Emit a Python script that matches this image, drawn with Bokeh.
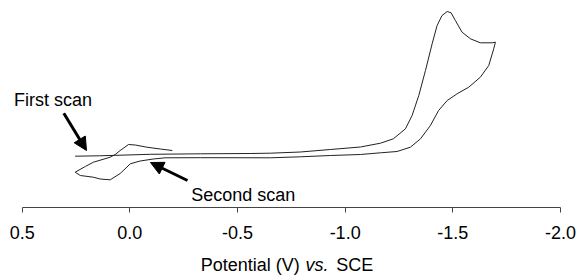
from bokeh.plotting import figure
from bokeh.models import Range1d, FixedTicker, Label, Arrow, NormalHead
from bokeh.embed import file_html
from bokeh.resources import INLINE

# ---- data (potential in V vs SCE, current in arbitrary units) ----
tick_values = [0.5, 0.0, -0.5, -1.0, -1.5, -2.0]
tick_labels = ["0.5", "0.0", "-0.5", "-1.0", "-1.5", "-2.0"]

# first scan: cathodic sweep from +0.25 V to -1.70 V and back to +0.25 V
scan1_potential = [0.254, 0.14, -0.095, -0.327, -0.559, -0.652, -0.792, -0.931, -1.071,
                   -1.164, -1.224, -1.280, -1.311, -1.342, -1.373, -1.404, -1.427, -1.450,
                   -1.474, -1.492, -1.512, -1.543, -1.582, -1.628, -1.683, -1.698,
                   -1.690, -1.667, -1.628, -1.574, -1.520, -1.474, -1.434, -1.396, -1.350,
                   -1.303, -1.241, -1.164, -1.071, -0.931, -0.792, -0.652, -0.327, -0.164,
                   -0.109, -0.048, -0.002, 0.045, 0.091, 0.138, 0.170, 0.230, 0.254]
scan1_current = [-0.07, -0.03, 0.12, 0.17, 0.20, 0.23, 0.35, 0.60, 0.85,
                 1.23, 1.67, 2.67, 4.0, 6.0, 8.5, 11.17, 13.0, 14.0,
                 14.4, 14.27, 13.5, 12.33, 11.67, 11.27, 11.27, 11.33,
                 10.67, 9.0, 7.83, 6.83, 6.17, 5.5, 4.5, 3.0, 1.67,
                 0.83, 0.40, 0.27, 0.10, 0.0, -0.13, -0.23, -0.22, -0.23,
                 -0.35, -0.55, -0.83, -1.8, -2.43, -2.35, -2.17, -2.0, -1.67]

# second scan: restarted at +0.25 V
scan2_potential = [0.254, 0.207, 0.169, 0.091, 0.068, 0.045, 0.006, -0.025, -0.079, -0.141, -0.197]
scan2_current = [-1.67, -1.1, -0.67, -0.17, 0.10, 0.50, 1.10, 1.05, 0.83, 0.65, 0.50]

FONT = "Liberation Sans"
AXIS_Y = -5.2  # current level at which the potential axis is drawn

p = figure(width=579, height=276, output_backend="svg", toolbar_location=None,
           x_range=Range1d(0.6008, -2.0885), y_range=Range1d(-12.1, 15.5),
           y_axis_location=None, min_border=0,
           min_border_left=0, min_border_right=0, min_border_top=0, min_border_bottom=0)
p.xgrid.visible = False
p.ygrid.visible = False
p.outline_line_color = None
p.background_fill_color = "white"
p.border_fill_color = "white"

ax = p.xaxis[0]
ax.fixed_location = AXIS_Y
ax.bounds = (min(tick_values), max(tick_values))
ax.ticker = FixedTicker(ticks=tick_values, minor_ticks=[])
ax.major_label_overrides = {v: s for v, s in zip(tick_values, tick_labels)}
ax.major_tick_out = 5
ax.major_tick_in = 0
ax.minor_tick_out = 0
ax.minor_tick_in = 0
ax.axis_line_color = "#444444"
ax.major_tick_line_color = "#444444"
ax.major_label_text_font = FONT
ax.major_label_text_font_size = "18px"
ax.major_label_text_color = "black"
ax.major_label_standoff = 13

p.line(scan1_potential, scan1_current, line_color="#222222", line_width=1.0)
p.line(scan2_potential, scan2_current, line_color="#222222", line_width=1.0)

# axis title with italic "vs."
TITLE_Y = -10.9
p.add_layout(Label(x=-0.3295, y=TITLE_Y, text="Potential (V)", text_font=FONT,
                   text_font_size="18px", text_color="black", text_baseline="alphabetic"))
p.add_layout(Label(x=-0.8158, y=TITLE_Y, text="vs.", text_font=FONT, text_font_style="italic",
                   text_font_size="18px", text_color="black", text_baseline="alphabetic"))
p.add_layout(Label(x=-0.9589, y=TITLE_Y, text="SCE", text_font=FONT,
                   text_font_size="18px", text_color="black", text_baseline="alphabetic"))

# annotations
p.add_layout(Label(x=0.5376, y=5.6, text="First scan", text_font=FONT,
                   text_font_size="18px", text_color="black", text_baseline="alphabetic"))
p.add_layout(Label(x=-0.2854, y=-3.9, text="Second scan", text_font=FONT,
                   text_font_size="18px", text_color="black", text_baseline="alphabetic"))

p.add_layout(Arrow(x_start=0.3068, y_start=4.23, x_end=0.2014, y_end=0.5, line_width=3,
                   line_color="black",
                   end=NormalHead(size=13, fill_color="black", line_color="black")))
p.add_layout(Arrow(x_start=-0.2678, y_start=-2.5, x_end=-0.0959, y_end=-0.7, line_width=3,
                   line_color="black",
                   end=NormalHead(size=13, fill_color="black", line_color="black")))

open("out.html", "w").write(file_html(p, INLINE))
